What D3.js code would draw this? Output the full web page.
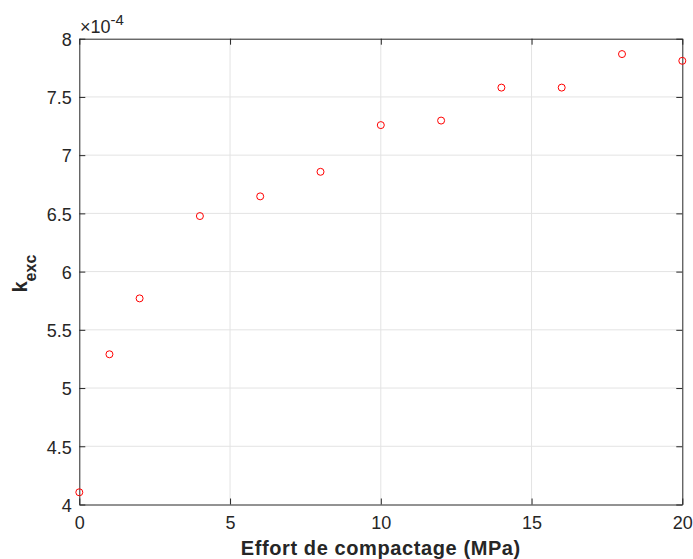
<!DOCTYPE html>
<html>
<head>
<meta charset="utf-8">
<script src="https://cdn.jsdelivr.net/npm/d3@7"></script>
<style>
  body { margin: 0; background: #fff; }
  svg { display: block; font-family: Helvetica, Arial, "Liberation Sans", sans-serif; }
</style>
</head>
<body>
<div id="chart"></div>
<script>
const xValues = [0, 1, 2, 4, 6, 8, 10, 12, 14, 16, 18, 20];
const kexc = [4.105, 5.29, 5.77, 6.477, 6.646, 6.857, 7.258, 7.297, 7.58, 7.58, 7.868, 7.81]; // ×10^-4
const xTicks = [0, 5, 10, 15, 20];
const yTicks = [4, 4.5, 5, 5.5, 6, 6.5, 7, 7.5, 8];
const xLabel = "Effort de compactage (MPa)";

const W = 693, H = 559;
const m = { left: 79.3, right: W - 682.3, top: 38.7, bottom: H - 504.5 };
const axisColor = "#262626";
const FONT = "Helvetica, Arial, 'Liberation Sans', sans-serif";

const svg = d3.select("#chart").append("svg").attr("width", W).attr("height", H);

const x = d3.scaleLinear().domain([0, 20]).range([m.left, W - m.right]);
const y = d3.scaleLinear().domain([4, 8]).range([H - m.bottom, m.top]);

// grid
const grid = svg.append("g").attr("stroke", "#e3e3e3").attr("stroke-width", 1);
grid.selectAll(".gx").data(xTicks.slice(1, -1)).join("line")
  .attr("x1", d => x(d)).attr("x2", d => x(d))
  .attr("y1", m.top).attr("y2", H - m.bottom);
grid.selectAll(".gy").data(yTicks.slice(1, -1)).join("line")
  .attr("x1", m.left).attr("x2", W - m.right)
  .attr("y1", d => y(d)).attr("y2", d => y(d));

// axes
const fmt = d => d3.format("")(d);
const styleAxis = g => {
  g.attr("font-size", 18).attr("font-family", FONT);
  g.selectAll("path").attr("stroke", axisColor).attr("stroke-width", 1);
  g.selectAll("line").attr("stroke", axisColor).attr("stroke-width", 1);
  g.selectAll("text").attr("fill", axisColor);
};
svg.append("g").attr("transform", `translate(0,${H - m.bottom})`)
  .call(d3.axisBottom(x).tickValues(xTicks).tickFormat(fmt).tickSizeInner(-6).tickSizeOuter(0).tickPadding(12))
  .call(styleAxis);
svg.append("g").attr("transform", `translate(0,${m.top})`)
  .call(d3.axisTop(x).tickValues(xTicks).tickFormat("").tickSizeInner(-6).tickSizeOuter(0))
  .call(styleAxis);
svg.append("g").attr("transform", `translate(${m.left},0)`)
  .call(d3.axisLeft(y).tickValues(yTicks).tickFormat(fmt).tickSizeInner(-6).tickSizeOuter(0).tickPadding(7.5))
  .call(styleAxis)
  .selectAll("text").attr("dy", "0.38em");
svg.append("g").attr("transform", `translate(${W - m.right},0)`)
  .call(d3.axisRight(y).tickValues(yTicks).tickFormat("").tickSizeInner(-6).tickSizeOuter(0))
  .call(styleAxis);

// points
svg.append("g").selectAll("circle").data(xValues).join("circle")
  .attr("cx", d => x(d))
  .attr("cy", (d, i) => y(kexc[i]))
  .attr("r", 3.5)
  .attr("fill", "none")
  .attr("stroke", "#ff0000")
  .attr("stroke-width", 1);

// exponent label
const ex = svg.append("text").attr("x", 80).attr("y", 33).attr("fill", axisColor)
  .attr("font-size", 18).attr("font-family", FONT);
ex.append("tspan").text("×10");
ex.append("tspan").attr("dy", -8).attr("font-size", 15).text("-4");

// x label
svg.append("text")
  .attr("x", (m.left + W - m.right) / 2).attr("y", 555)
  .attr("text-anchor", "middle").attr("font-weight", "bold").attr("font-size", 20)
  .attr("letter-spacing", 0.6).attr("font-family", FONT)
  .attr("fill", axisColor).text(xLabel);

// y label
const yl = svg.append("text")
  .attr("transform", `translate(27,${(m.top + H - m.bottom) / 2 + 2}) rotate(-90)`)
  .attr("text-anchor", "middle").attr("font-weight", "bold").attr("font-size", 20)
  .attr("font-family", FONT).attr("fill", axisColor);
yl.append("tspan").text("k");
yl.append("tspan").attr("dy", 9).attr("font-size", 16).text("exc");
</script>
</body>
</html>
